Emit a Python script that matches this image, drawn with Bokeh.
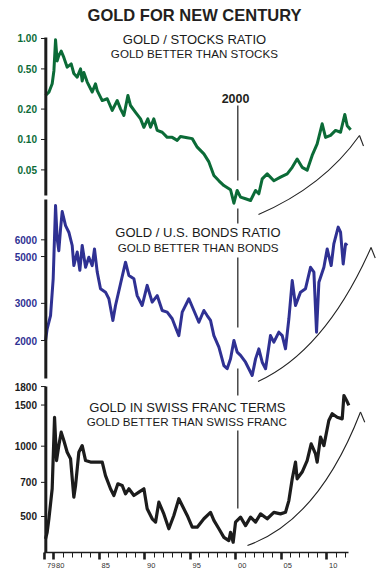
from bokeh.plotting import figure
from bokeh.models import Range1d, LogScale, FixedTicker
from bokeh.core.properties import value
from bokeh.embed import file_html
from bokeh.resources import INLINE

# ---------------- data ----------------
gs_years = [1979.07, 1979.44, 1979.80, 1979.99, 1980.17, 1980.35, 1980.53, 1980.79, 1981.08, 1981.45,
            1981.89, 1982.18, 1982.55, 1982.92, 1983.10, 1983.28, 1983.65, 1984.20, 1984.56, 1984.75,
            1985.30, 1985.85, 1986.40, 1986.95, 1987.31, 1987.68, 1988.12, 1988.41, 1988.96, 1989.51,
            1989.88, 1990.31, 1990.61, 1990.97, 1991.34, 1991.89, 1992.44, 1992.99, 1993.54, 1993.90,
            1994.64, 1995.19, 1995.74, 1996.47, 1997.02, 1997.57, 1998.12, 1998.67, 1999.40, 1999.77,
            2000.13, 2000.50, 2001.05, 2001.60, 2002.15, 2002.51, 2002.88, 2003.43, 2004.16, 2004.89,
            2005.63, 2006.18, 2006.72, 2007.27, 2007.82, 2008.37, 2008.92, 2009.47, 2009.84, 2010.39,
            2010.94, 2011.49, 2011.96, 2012.22, 2012.60]
gs_ratio = [0.273, 0.294, 0.356, 0.48, 0.97, 0.60, 0.68, 0.75, 0.65, 0.52,
            0.56, 0.45, 0.414, 0.50, 0.38, 0.46, 0.37, 0.295, 0.356, 0.305,
            0.243, 0.253, 0.194, 0.243, 0.201, 0.173, 0.273, 0.217, 0.186, 0.160,
            0.132, 0.160, 0.132, 0.160, 0.123, 0.118, 0.105, 0.105, 0.098, 0.107,
            0.104, 0.102, 0.084, 0.072, 0.060, 0.044, 0.039, 0.035, 0.0318, 0.0234,
            0.0313, 0.0269, 0.0259, 0.0249, 0.0313, 0.029, 0.0408, 0.0457, 0.039, 0.0424,
            0.0457, 0.053, 0.064, 0.053, 0.0497, 0.0695, 0.0906, 0.143, 0.105, 0.110,
            0.123, 0.118, 0.177, 0.137, 0.125]

gb_years = [1979.07, 1979.25, 1979.62, 1979.91, 1980.17, 1980.35, 1980.53, 1980.72, 1980.90, 1981.27,
            1981.63, 1982.00, 1982.18, 1982.55, 1982.84, 1983.10, 1983.47, 1983.83, 1984.20, 1984.45,
            1984.75, 1985.11, 1985.66, 1986.03, 1986.47, 1986.76, 1987.31, 1987.86, 1988.23, 1988.78,
            1989.14, 1989.69, 1990.24, 1990.79, 1991.34, 1991.89, 1992.44, 1992.99, 1993.35, 1993.72,
            1994.09, 1994.82, 1995.37, 1995.92, 1996.47, 1996.83, 1997.20, 1997.57, 1998.12, 1998.67,
            1999.03, 1999.40, 1999.77, 2000.13, 2000.50, 2001.05, 2001.41, 2001.78, 2002.15, 2002.51,
            2002.88, 2003.25, 2003.79, 2004.16, 2004.71, 2005.08, 2005.44, 2005.81, 2006.18, 2006.54,
            2007.09, 2007.64, 2008.19, 2008.56, 2008.85, 2009.11, 2009.66, 2010.02, 2010.46, 2010.75,
            2011.23, 2011.49, 2011.78, 2012.04, 2012.22]
gb_ratio = [2000, 2272, 2626, 3920, 8730, 6070, 5330, 6760, 8170, 7010,
            6520, 5640, 4530, 5250, 4300, 5640, 4445, 4960, 4530, 5430,
            4220, 3520, 3390, 3155, 2490, 2930, 3715, 4700, 4065, 3920,
            3265, 2930, 3650, 3040, 3265, 2775, 2725, 2535, 2310, 2110,
            2725, 3155, 2775, 2440, 2775, 2626, 2490, 2110, 1860, 1520,
            1470, 1637, 2000, 1762, 1700, 1578, 1470, 1365, 1637, 1826,
            1578, 1470, 2110, 1965, 2190, 2110, 1826, 2535, 3845, 2930,
            3390, 3520, 4445, 4220, 2190, 3780, 4445, 5430, 4530, 5740,
            6890, 6520, 4610, 5740, 5640]

gf_years = [1979.07, 1979.25, 1979.44, 1979.80, 1980.06, 1980.28, 1980.53, 1980.79, 1981.08, 1981.45,
            1981.82, 1982.18, 1982.37, 1982.73, 1983.10, 1983.47, 1984.01, 1984.56, 1985.30, 1985.66,
            1986.21, 1986.58, 1987.02, 1987.49, 1987.86, 1988.23, 1988.78, 1989.33, 1989.88, 1990.24,
            1990.79, 1991.16, 1991.52, 1992.07, 1992.62, 1993.17, 1993.72, 1994.09, 1994.64, 1995.19,
            1995.74, 1996.47, 1997.20, 1997.57, 1998.12, 1998.67, 1999.21, 1999.40, 1999.69, 1999.95,
            2000.50, 2001.05, 2001.60, 2002.15, 2002.70, 2003.43, 2004.16, 2004.89, 2005.44, 2005.81,
            2006.18, 2006.54, 2006.72, 2007.27, 2007.82, 2008.26, 2008.74, 2008.92, 2009.29, 2009.66,
            2010.20, 2010.57, 2011.12, 2011.67, 2011.86, 2012.15, 2012.40]
gf_price = [401, 428, 489, 657, 1330, 868, 1006, 1148, 1058, 942,
            883, 605, 679, 942, 1006, 868, 855, 855, 855, 748,
            657, 615, 690, 679, 625, 657, 615, 636, 657, 540,
            489, 473, 576, 513, 443, 505, 596, 557, 505, 450,
            450, 489, 521, 481, 443, 407, 394, 428, 388, 473,
            497, 457, 497, 473, 513, 489, 521, 513, 521, 585,
            725, 855, 725, 775, 868, 1024, 927, 855, 1094, 1006,
            1288, 1377, 1330, 1309, 1648, 1570, 1494]

gs_ticks = [1.0, 0.5, 0.2, 0.1, 0.05]
gs_tick_labels = ["1.00", "0.50", "0.20", "0.10", "0.05"]
gb_ticks = [6000, 5000, 3000, 2000]
gb_tick_labels = ["6000", "5000", "3000", "2000"]
gf_ticks = [1800, 1500, 1000, 700, 500]
gf_tick_labels = ["1800", "1500", "1000", "700", "500"]

x_major = [1979, 1980, 1985, 1990, 1995, 2000, 2005, 2010]
x_major_labels = ["79", "80", "85", "90", "95", "00", "05", "10"]
x_minor = list(range(1979, 2013))

# ---------------- styling ----------------
GREEN = "#0b6b37"
BLUE = "#2f3193"
BLACK = "#1c1c1c"
TXT = "#1a1a1a"
FONT = value("Liberation Sans")
FIG_SPACE = "\u2007"   # digit-wide space: shifts the centred label so it starts just right of its tick

p = figure(width=380, height=583, output_backend="svg", toolbar_location=None,
           x_range=Range1d(1974.121, 1974.121 + 380 / 9.1), y_range=Range1d(552, 0),
           y_axis_location=None, min_border_left=0, min_border_right=0,
           min_border_top=0, min_border_bottom=31)
p.outline_line_color = None
p.xgrid.visible = False
p.ygrid.visible = False
p.background_fill_color = "white"

p.extra_y_ranges = {
    "gs": Range1d(10 ** -5.0891, 10 ** 0.3762),
    "gb": Range1d(10 ** 2.2963, 10 ** 4.9124),
    "gf": Range1d(10 ** 2.54486, 10 ** 4.90787),
}
p.extra_y_scales = {"gs": LogScale(), "gb": LogScale(), "gf": LogScale()}

# x axis
ax = p.xaxis[0]
ax.ticker = FixedTicker(ticks=x_major, minor_ticks=x_minor)
ax.major_label_overrides = {t: FIG_SPACE * (len(l) + 1) + l for t, l in zip(x_major, x_major_labels)}
ax.bounds = (1979, 2012.4)
ax.axis_line_color = BLACK
ax.axis_line_width = 1.3
ax.major_tick_line_color = BLACK
ax.major_tick_line_width = 2.6
ax.major_tick_in = 0
ax.major_tick_out = 7
ax.minor_tick_line_color = BLACK
ax.minor_tick_line_width = 1
ax.minor_tick_in = 0
ax.minor_tick_out = 5
ax.major_label_standoff = 1
ax.major_label_text_font = "Liberation Sans"
ax.major_label_text_font_size = "7.5px"
ax.major_label_text_color = "#333333"

# data lines
p.line(gs_years, gs_ratio, y_range_name="gs", line_color=GREEN, line_width=3, line_join="round")
p.line(gb_years, gb_ratio, y_range_name="gb", line_color=BLUE, line_width=3, line_join="round")
p.line(gf_years, gf_price, y_range_name="gf", line_color=BLACK, line_width=3.2, line_join="round")

# left axis lines per panel
AX_X = 1979.1
p.segment(x0=[AX_X], y0=[1.023], x1=[AX_X], y1=[0.0279], y_range_name="gs", line_color=BLACK, line_width=3)
p.segment(x0=[AX_X], y0=[9310], x1=[AX_X], y1=[1321], y_range_name="gb", line_color=BLACK, line_width=3)
p.segment(x0=[AX_X], y0=[1800], x1=[AX_X], y1=[10 ** 2.54486], y_range_name="gf", line_color=BLACK, line_width=3)

# y tick marks and labels
LBL_X = 1978.13
TK0, TK1 = 1978.57, 1979.1
for name, ticks, labels, col in [("gs", gs_ticks, gs_tick_labels, GREEN),
                                 ("gb", gb_ticks, gb_tick_labels, BLUE),
                                 ("gf", gf_ticks, gf_tick_labels, BLACK)]:
    p.segment(x0=[TK0] * len(ticks), x1=[TK1] * len(ticks), y0=ticks, y1=ticks,
              y_range_name=name, line_color=BLACK, line_width=1)
    p.text(x=[LBL_X] * len(ticks), y=ticks, text=labels, y_range_name=name,
           text_align="right", text_baseline="middle", text_font=FONT,
           text_font_style="bold", text_font_size="10px", text_color=col)

# titles
p.text(x=[1995.44], y=[14.5], text=["GOLD FOR NEW CENTURY"], text_align="center",
       text_baseline="middle", text_font=FONT, text_font_style="bold",
       text_font_size="16.5px", text_color="#231f20")
sub1 = [("GOLD / STOCKS RATIO", 1995.44, 39.3), ("GOLD / U.S. BONDS RATIO", 1995.82, 232.0),
        ("GOLD IN SWISS FRANC TERMS", 1994.67, 407.0)]
sub2 = [("GOLD BETTER THAN STOCKS", 1995.44, 53.0), ("GOLD BETTER THAN BONDS", 1995.85, 247.0),
        ("GOLD BETTER THAN SWISS FRANC", 1994.6, 420.7)]
p.text(x=[s[1] for s in sub1], y=[s[2] for s in sub1], text=[s[0] for s in sub1],
       text_align="center", text_baseline="middle", text_font=FONT,
       text_font_size="13px", text_color=TXT)
p.text(x=[s[1] for s in sub2], y=[s[2] for s in sub2], text=[s[0] for s in sub2],
       text_align="center", text_baseline="middle", text_font=FONT,
       text_font_size="11.6px", text_color=TXT)

# 2000 marker
p.text(x=[1999.95], y=[98.3], text=["2000"], text_align="center", text_baseline="middle",
       text_font=FONT, text_font_style="bold", text_font_size="12.5px", text_color="#231f20")
Y2K = 2000.2
p.segment(x0=[Y2K] * 5, x1=[Y2K] * 5, y0=[105, 208, 257, 368, 430], y1=[180, 223, 327, 395, 508],
          line_color=BLACK, line_width=1.2)

# curved arrows
p.quadratic(x0=[2002.47, 2002.42, 2001.26], y0=[214, 381, 545],
            x1=[2013.57, 2014.84, 2013.68], y1=[135, 247, 411.5],
            cx=[2009.62, 2009.84, 2009.07], cy=[186, 350, 520],
            line_color="#222222", line_width=1.1)
p.segment(x0=[2013.57, 2014.84, 2013.68], y0=[135, 247, 411.5],
          x1=[2014.01, 2015.3, 2014.15], y1=[145.5, 257.5, 421.7],
          line_color="#222222", line_width=1.1)

open("out.html", "w").write(file_html(p, INLINE))
